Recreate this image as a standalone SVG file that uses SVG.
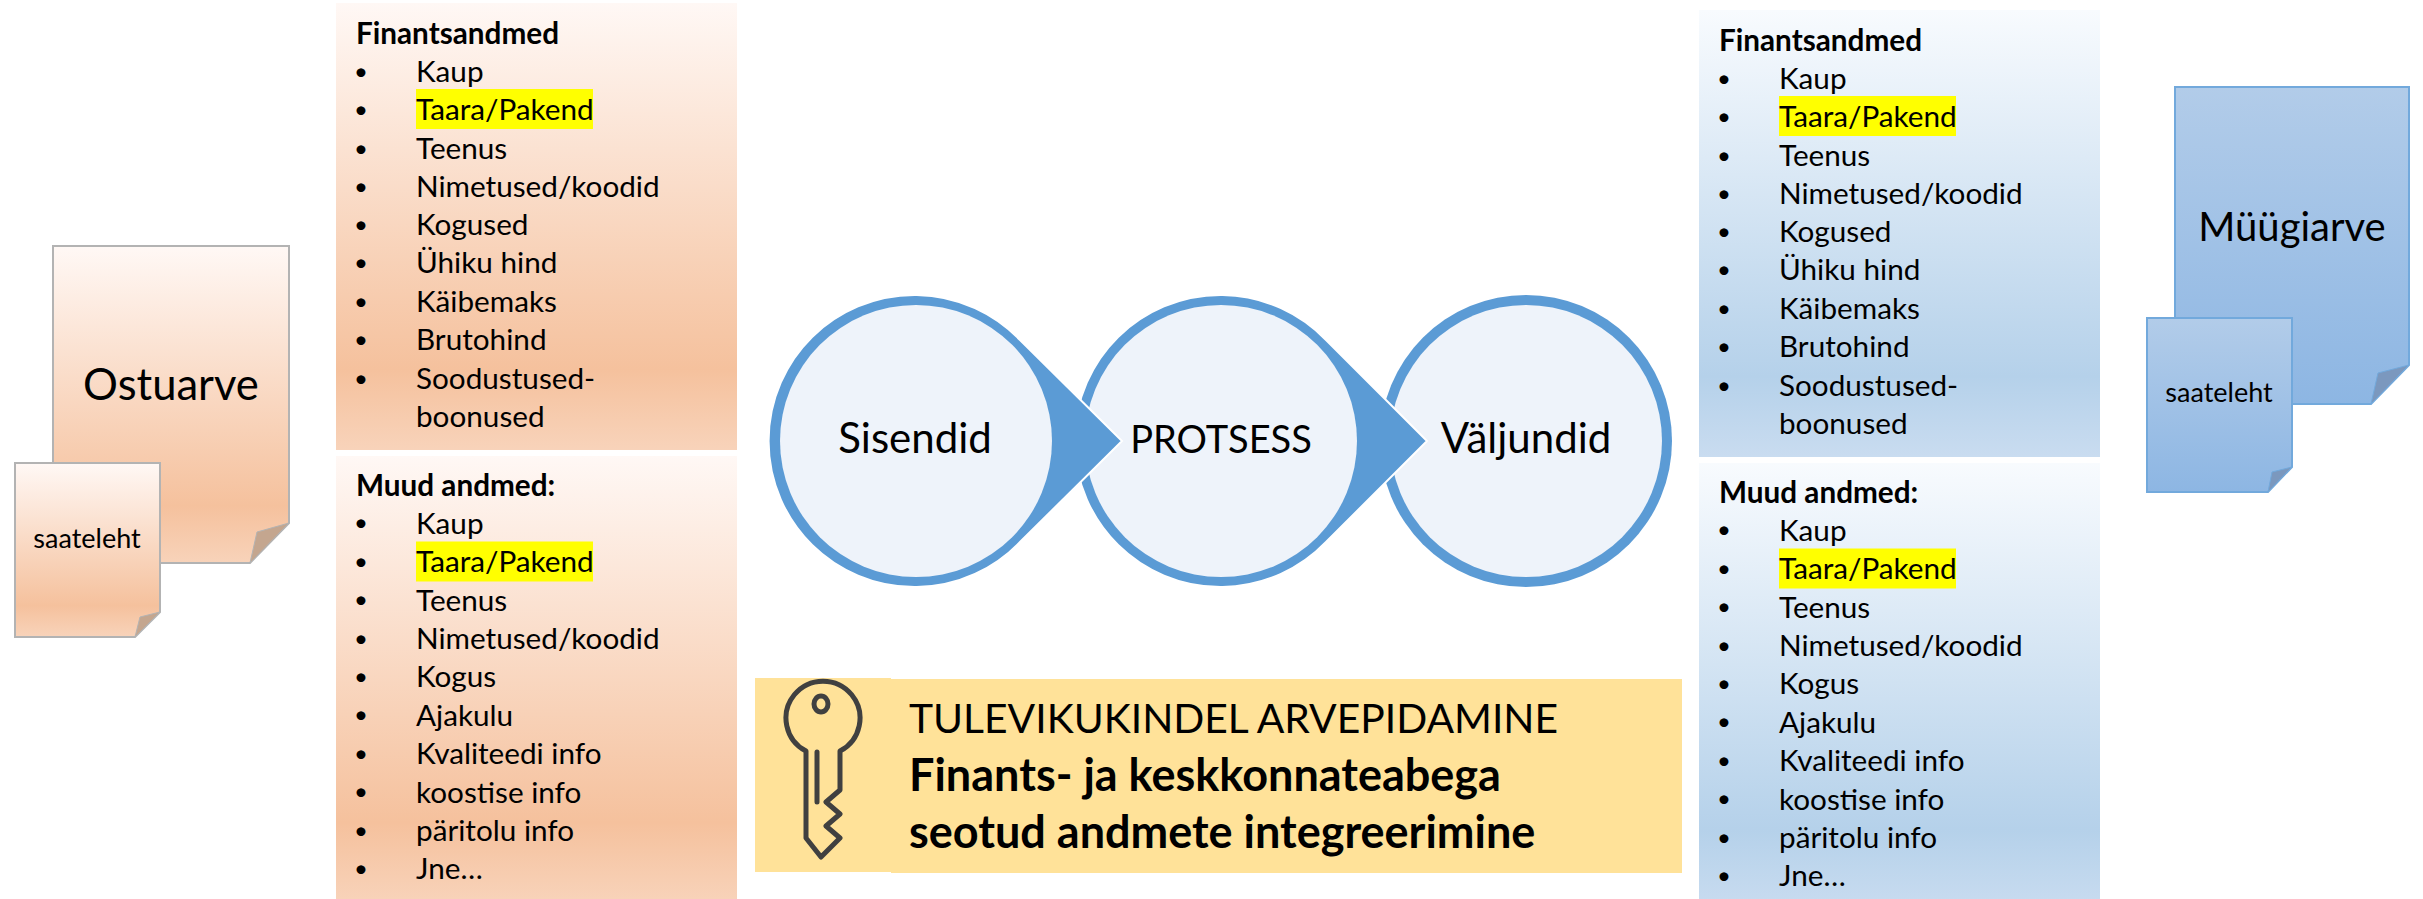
<svg xmlns="http://www.w3.org/2000/svg" width="2423" height="899" viewBox="0 0 2423 899">
<style>
text{font-family:"Lato","Open Sans","Liberation Sans",sans-serif;fill:#000}
.i{font-size:29.7px}
.h{font-size:29.7px;font-weight:700}
.bu{font-size:24px;transform:translate(2px,-2.5px)}
.c{font-size:42px}
.cp{font-size:38px}
.k{font-size:40.8px}
.kb{font-size:45px;font-weight:700}
.d{font-size:43.6px}
.dm{font-size:40px}
.s{font-size:27px}
.hl{fill:#ffff00}
.doc{stroke-width:2}
.or{fill:url(#docO);stroke:#b3b3b3}
.bl{fill:url(#docB);stroke:#72a9dc}
.fo{fill:#c4a68f;stroke:#b3b3b3;stroke-width:1}
.fb{fill:#7b98be;stroke:#72a9dc;stroke-width:1}
.drop{fill:#5b9bd5;stroke:#fff;stroke-width:2}
.inner{fill:#eef3fa}
</style>
<defs>
<linearGradient id="docO" x1="0" y1="0" x2="0" y2="1"><stop offset="0" stop-color="#fff8f5"/><stop offset=".82" stop-color="#f5c19d"/><stop offset="1" stop-color="#f8d3ba"/></linearGradient>
<linearGradient id="docB" x1="0" y1="0" x2="0" y2="1"><stop offset="0" stop-color="#b2cce9"/><stop offset="1" stop-color="#8db6e3"/></linearGradient>
<linearGradient id="pO" x1="0" y1="0" x2="0" y2="1"><stop offset="0" stop-color="#fff8f5"/><stop offset=".82" stop-color="#f5c19d"/><stop offset="1" stop-color="#f8d3ba"/></linearGradient>
<linearGradient id="pB" x1="0" y1="0" x2="0" y2="1"><stop offset="0" stop-color="#f8fbfe"/><stop offset=".82" stop-color="#b5d1ea"/><stop offset="1" stop-color="#c9dcf0"/></linearGradient>
<g id="fin">
<text class="h" x="-1" y="0.5">Finantsandmed</text>
<g class="i">
<text class="bu" x="-5" y="39">•</text><text x="59" y="39">Kaup</text>
<rect class="hl" x="59" y="46" width="177" height="40"/>
<text class="bu" x="-5" y="77">•</text><text x="59" y="77">Taara/Pakend</text>
<text class="bu" x="-5" y="116">•</text><text x="59" y="116">Teenus</text>
<text class="bu" x="-5" y="154">•</text><text x="59" y="154">Nimetused/koodid</text>
<text class="bu" x="-5" y="192">•</text><text x="59" y="192">Kogused</text>
<text class="bu" x="-5" y="230">•</text><text x="59" y="230">Ühiku hind</text>
<text class="bu" x="-5" y="269">•</text><text x="59" y="269">Käibemaks</text>
<text class="bu" x="-5" y="307">•</text><text x="59" y="307">Brutohind</text>
<text class="bu" x="-5" y="346">•</text><text x="59" y="346">Soodustused-</text>
<text x="59" y="384">boonused</text>
</g>
</g>
<g id="muu">
<text class="h" x="-1" y="0.5">Muud andmed:</text>
<g class="i">
<text class="bu" x="-5" y="38.5">•</text><text x="59" y="38.5">Kaup</text>
<rect class="hl" x="59" y="46.5" width="177" height="40"/>
<text class="bu" x="-5" y="77">•</text><text x="59" y="77">Taara/Pakend</text>
<text class="bu" x="-5" y="115.5">•</text><text x="59" y="115.5">Teenus</text>
<text class="bu" x="-5" y="154">•</text><text x="59" y="154">Nimetused/koodid</text>
<text class="bu" x="-5" y="192">•</text><text x="59" y="192">Kogus</text>
<text class="bu" x="-5" y="230.5">•</text><text x="59" y="230.5">Ajakulu</text>
<text class="bu" x="-5" y="269">•</text><text x="59" y="269">Kvaliteedi info</text>
<text class="bu" x="-5" y="307.5">•</text><text x="59" y="307.5">koostise info</text>
<text class="bu" x="-5" y="346">•</text><text x="59" y="346">päritolu info</text>
<text class="bu" x="-5" y="384">•</text><text x="59" y="384">Jne…</text>
</g>
</g>
</defs>
<rect width="2423" height="899" fill="#fff"/>

<g id="ostuarve">
<path class="doc or" d="M53 246H289V523L250 563H53Z"/>
<path class="fo" d="M289 523L257 532L250 563Z"/>
<text class="d" x="171" y="400" text-anchor="middle">Ostuarve</text>
</g>
<g id="saateleht-ostu">
<path class="doc or" d="M15 463H160V612L135 637H15Z"/>
<path class="fo" d="M160 612L140 617L135 637Z"/>
<text class="s" x="87" y="548" text-anchor="middle">saateleht</text>
</g>

<g id="ostu-finants">
<rect x="336" y="3" width="401" height="447" fill="url(#pO)"/>
<use href="#fin" x="357" y="43"/>
</g>
<g id="ostu-muud">
<rect x="336" y="456" width="401" height="447" fill="url(#pO)"/>
<use href="#muu" x="357" y="495"/>
</g>

<g id="protsess">
<g id="valjundid"><circle cx="1526" cy="441" r="146" fill="#5b9bd5"/><circle class="inner" cx="1526" cy="441" r="136"/></g>
<g id="protsess-node"><path class="drop" d="M1326 340A146 146 0 1 0 1326 542L1427 441Z"/><circle class="inner" cx="1221" cy="441" r="136"/></g>
<g id="sisendid"><path class="drop" d="M1020 340A146 146 0 1 0 1020 542L1122 441Z"/><circle class="inner" cx="916" cy="441" r="136"/></g>
<text class="c" x="915" y="453" text-anchor="middle">Sisendid</text>
<text class="cp" x="1221" y="453" text-anchor="middle">PROTSESS</text>
<text class="c" x="1526" y="453" text-anchor="middle">Väljundid</text>
</g>

<g id="muugi-finants">
<rect x="1699" y="10" width="401" height="447" fill="url(#pB)"/>
<use href="#fin" x="1720" y="50"/>
</g>
<g id="muugi-muud">
<rect x="1699" y="463" width="401" height="447" fill="url(#pB)"/>
<use href="#muu" x="1720" y="502"/>
</g>

<g id="muugiarve">
<path class="doc bl" d="M2175 87H2409V365L2371 404H2175Z"/>
<path class="fb" d="M2409 365L2378 373L2371 404Z"/>
<text class="dm" x="2292" y="241" text-anchor="middle">Müügiarve</text>
</g>
<g id="saateleht-muugi">
<path class="doc bl" d="M2147 318H2292V467L2268 492H2147Z"/>
<path class="fb" d="M2292 467L2272 472L2268 492Z"/>
<text class="s" x="2219" y="402" text-anchor="middle">saateleht</text>
</g>

<g id="tulevikukindel">
<rect x="891" y="679" width="791" height="194" fill="#ffe299"/>
<rect x="755" y="678" width="136" height="194" fill="#ffe299"/>
<g fill="none" stroke="#404040" stroke-width="5">
<path stroke-linejoin="round" d="M806 838V751A37 37 0 1 1 840 751V790L826 802L840 814L826 826L840 838L821 857Z"/>
<ellipse cx="821" cy="704" rx="7" ry="8"/>
<path stroke-linecap="round" d="M817 752V802"/>
</g>
<text class="k" x="909" y="733">TULEVIKUKINDEL ARVEPIDAMINE</text>
<text class="kb" x="909" y="791">Finants- ja keskkonnateabega</text>
<text class="kb" x="909" y="848">seotud andmete integreerimine</text>
</g>
</svg>
